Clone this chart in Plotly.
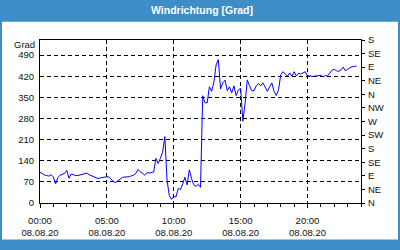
import plotly.graph_objects as go
import pandas as pd

# ---- data ----
start_time = "2020-08-08 00:00"
step_minutes = 10
wind_dir = [
    102, 96, 93, 91, 89, 94,
    86, 63, 84, 92, 94, 98,
    108, 82, 96, 93, 91, 91,
    93, 94, 95, 99, 94, 91,
    88, 86, 81, 83, 85, 86,
    87, 86, 78, 70, 68, 73,
    81, 85, 86, 86, 87, 90,
    92, 98, 111, 103, 99, 92,
    101, 99, 100, 103, 148, 131,
    148, 168, 220, 75, 25, 12,
    22, 20, 48, 45, 63, 85,
    60, 110, 80, 60, 55, 62,
    52, 355, 332, 332, 385, 370,
    400, 457, 475, 378, 398, 407,
    372, 385, 365, 388, 356, 375,
    380, 271, 330, 408, 388, 372,
    372, 388, 396, 388, 398, 385,
    370, 385, 398, 370, 356, 375,
    425, 435, 427, 420, 431, 420,
    435, 421, 430, 427, 431, 435,
    420, 422, 419, 420, 421, 423,
    423, 418, 422, 421, 432, 440,
    443, 438, 436, 441, 450, 438,
    443, 447, 452, 452, 454,
]
left_ticks = [0, 70, 140, 210, 280, 350, 420, 490]
right_tickvals = [0, 45, 90, 135, 180, 225, 270, 315, 360, 405, 450, 495, 540]
right_ticktext = ["N", "NE", "E", "SE", "S", "SW", "W", "NW", "N", "NE", "E", "SE", "S"]
title_text = "Windrichtung [Grad]"
unit_text = "Grad"
x_range = ["2020-08-08 00:00", "2020-08-09 00:00"]

times = pd.date_range(start_time, periods=len(wind_dir), freq=f"{step_minutes}min")

W, H = 400, 250
ML, MR, MT, MB = 40, 39, 40, 40
PW, PH = W - ML - MR, H - MT - MB
BLUE = "#3c8dc8"
FONT = "Liberation Sans"
FS = 9.5

def px(xp):
    return (xp - ML) / PW

def py(yp):
    return (H - MB - yp) / PH

fig = go.Figure()
fig.add_trace(go.Scatter(x=times, y=wind_dir, mode="lines",
                         line=dict(color="#0000ff", width=1),
                         showlegend=False, hoverinfo="skip"))
# helper traces so the secondary axes are drawn
fig.add_trace(go.Scatter(x=[], y=[], xaxis="x", yaxis="y2", showlegend=False))
fig.add_trace(go.Scatter(x=[], y=[], xaxis="x2", yaxis="y", showlegend=False))

grid = dict(showgrid=True, gridcolor="black", gridwidth=1, griddash="4px,3px")
dt5 = 5 * 3600 * 1000

fig.update_layout(
    width=W, height=H,
    margin=dict(l=ML, r=MR, t=MT, b=MB, pad=0),
    paper_bgcolor=BLUE,
    plot_bgcolor="white",
    font=dict(family=FONT, size=FS, color="#101010"),
    title=dict(text=title_text, x=0.505, xref="container", xanchor="center",
               y=1 - 10 / H, yref="container", yanchor="middle",
               font=dict(family=FONT, size=10.5, color="white", weight="bold")),
    xaxis=dict(type="date", range=x_range, tick0=start_time, dtick=dt5,
               tickformat="%H:%M", ticks="outside", ticklen=4, tickcolor="black",
               showline=True, linecolor="black", linewidth=1, mirror=True,
               zeroline=False, ticklabelstandoff=5,
               minor=dict(dtick=3600 * 1000, ticks="outside", ticklen=3,
                          tickcolor="black", showgrid=False),
               **grid),
    xaxis2=dict(type="date", overlaying="x", matches="x", anchor="y", side="bottom",
                range=x_range, tick0=start_time, dtick=dt5, tickformat="%d.%m.%y",
                ticks="", showgrid=False, showline=False, zeroline=False,
                ticklabelstandoff=22),
    yaxis=dict(range=[0, 540], tickvals=left_ticks, ticks="", showline=True,
               linecolor="black", linewidth=1, mirror=True, zeroline=False,
               ticklabelstandoff=3, **grid),
    yaxis2=dict(range=[0, 540], overlaying="y", side="right", anchor="x",
                tickvals=right_tickvals, ticktext=right_ticktext,
                ticks="outside", ticklen=3, tickcolor="black",
                showgrid=False, showline=False, zeroline=False,
                ticklabelstandoff=1),
    shapes=[dict(type="rect", xref="paper", yref="paper", layer="below",
                 x0=px(2), x1=px(398), y0=py(248), y1=py(21),
                 fillcolor="white", line=dict(width=0))],
    annotations=[dict(text=unit_text, xref="paper", yref="paper", x=0, y=1,
                      xanchor="right", yanchor="middle", xshift=-3, yshift=-4,
                      showarrow=False, font=dict(family=FONT, size=FS, color="#101010"))],
)

fig.write_html("out.html")
